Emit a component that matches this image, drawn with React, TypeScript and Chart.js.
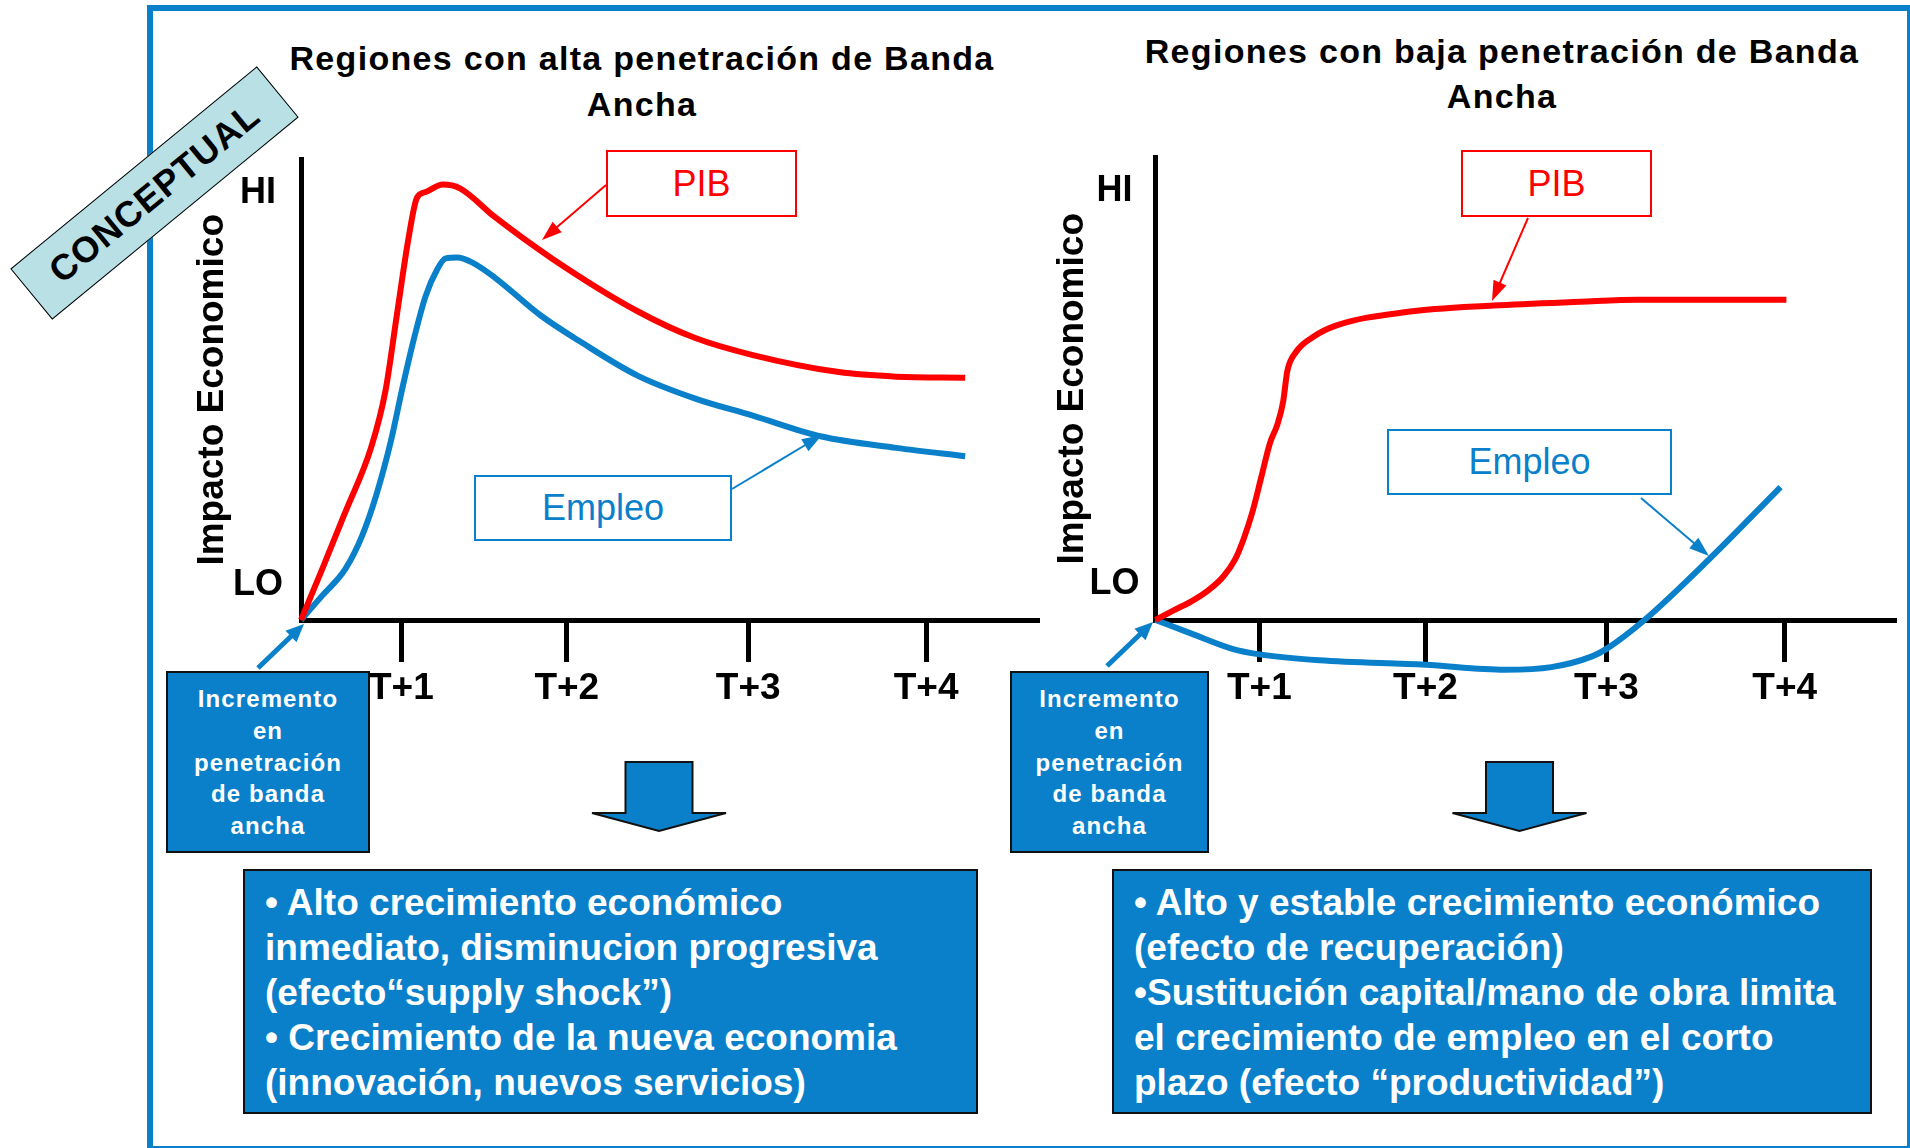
import React, { useEffect, useRef } from 'react';
import { Chart, registerables } from 'chart.js';

Chart.register(...registerables);

// ---------- data ----------
const tickLabels = ['T+1', 'T+2', 'T+3', 'T+4'];
const levelLabels = ['LO', 'HI'];

// Left panel: high broadband penetration (x, y in % of axis length)
const altaTickPos = [13.64, 36.11, 60.76, 84.93];
const altaLevelPos = [7.53, 92.69];
const altaPibX = [0, 2.88, 6.01, 9.51, 11.47, 13.02, 14.58, 15.75, 16.92, 19.27, 21.6, 26.28, 34.08, 45.79, 53.57, 61.39, 73.08, 80.88, 90.24];
const altaPibY = [0, 11.05, 23.4, 37.38, 49.72, 66.19, 82.65, 91.7, 92.95, 94.58, 93.76, 87.59, 78.54, 67.01, 61.25, 57.55, 53.85, 52.86, 52.6];
const altaEmpX = [0, 2.88, 6.01, 8.34, 10.3, 12.24, 13.8, 15.37, 16.92, 18.48, 19.65, 21.21, 23.17, 26.28, 32.53, 37.98, 45.79, 53.57, 61.39, 70.73, 80.88, 90.24];
const altaEmpY = [0, 5.29, 11.05, 18.45, 27.51, 39.03, 50.56, 61.25, 70.3, 76.06, 78.54, 78.71, 77.72, 74.43, 66.19, 60.43, 53.03, 48.09, 44.39, 39.85, 37.38, 35.57];

// Right panel: low broadband penetration
const bajaTickPos = [14.07, 36.55, 61.07, 85.2];
const bajaLevelPos = [7.74, 92.69];
const bajaPibX = [0, 2.52, 4.87, 7.23, 9.19, 10.78, 11.96, 13.13, 14.31, 15.49, 16.51, 17.29, 17.85, 19.03, 21.38, 24.52, 33.96, 45.74, 57.54, 65.39, 85.43];
const bajaPibY = [0, 2.15, 4.04, 6.52, 9.4, 13.1, 17.63, 23.4, 30.8, 38.22, 42.32, 47.27, 53.85, 57.96, 61.25, 63.72, 66.6, 68.0, 68.82, 69.25, 69.25];
const bajaEmpX = [0, 4.87, 10.39, 14.07, 22.17, 36.55, 47.31, 53.61, 59.11, 61.07, 66.17, 75.22, 84.64];
const bajaEmpY = [0, -2.95, -6.24, -7.44, -8.71, -9.68, -10.75, -10.19, -7.87, -6.24, -0.06, 13.53, 28.75];

// ---------- styles ----------
const RED = '#FF0000';
const BLUE = '#0A80CA';
const FONT = '"Liberation Sans", Arial, Helvetica, sans-serif';

type PanelProps = {
  left: number; top: number; width: number; height: number;
  yWidth: number; padRight: number; titlePad: number; levelPad: number;
  tickPos: number[]; levelPos: number[];
  pibX: number[]; pibY: number[]; empX: number[]; empY: number[];
};

function Panel(p: PanelProps) {
  const ref = useRef<HTMLCanvasElement>(null);
  useEffect(() => {
    const toPts = (xs: number[], ys: number[]) => xs.map((x, i) => ({ x, y: ys[i] }));
    const chart = new Chart(ref.current as HTMLCanvasElement, {
      type: 'line',
      data: {
        datasets: [
          {
            label: 'PIB', data: toPts(p.pibX, p.pibY), borderColor: RED, borderWidth: 6,
            pointRadius: 0, cubicInterpolationMode: 'monotone', clip: false as any, fill: false,
            borderJoinStyle: 'round',
          },
          {
            label: 'Empleo', data: toPts(p.empX, p.empY), borderColor: BLUE, borderWidth: 6,
            pointRadius: 0, cubicInterpolationMode: 'monotone', clip: false as any, fill: false,
            borderJoinStyle: 'round',
          },
        ],
      },
      options: {
        responsive: false,
        animation: false,
        devicePixelRatio: 1,
        events: [],
        layout: { padding: { top: 35, right: p.padRight, left: 0, bottom: 0 } },
        plugins: { legend: { display: false }, tooltip: { enabled: false } },
        scales: {
          x: {
            type: 'linear', min: 0, max: 100,
            afterBuildTicks: (s: any) => { s.ticks = p.tickPos.map((v) => ({ value: v })); },
            afterFit: (s: any) => { s.height = 120; },
            ticks: {
              autoSkip: false, maxRotation: 0, padding: 5, color: '#000',
              font: { family: FONT, size: 37, weight: 'bold' },
              callback: (_v: any, i: number) => tickLabels[i],
            },
            grid: { drawOnChartArea: false, drawTicks: true, tickLength: 42, tickWidth: 5, lineWidth: 5, color: '#000' },
            border: { display: true, color: '#000', width: 5 },
          },
          y: {
            type: 'linear', min: 0, max: 100,
            afterBuildTicks: (s: any) => { s.ticks = p.levelPos.map((v) => ({ value: v })); },
            afterFit: (s: any) => { s.width = p.yWidth; },
            ticks: {
              autoSkip: false, crossAlign: 'center', padding: p.levelPad, color: '#000',
              font: { family: FONT, size: 36, weight: 'bold' },
              callback: (_v: any, i: number) => levelLabels[i],
            },
            grid: { drawOnChartArea: false, drawTicks: false, color: '#000' },
            border: { display: true, color: '#000', width: 5 },
            title: {
              display: true, text: 'Impacto Economico', color: '#000',
              font: { family: FONT, size: 37, weight: 'bold' },
              padding: { top: p.titlePad, bottom: 0 },
            },
          },
        },
      } as any,
    });
    return () => chart.destroy();
  }, []);
  return (
    <canvas
      ref={ref}
      width={p.width}
      height={p.height}
      style={{ position: 'absolute', left: p.left, top: p.top, width: p.width, height: p.height }}
    />
  );
}

function Arrow({ x1, y1, x2, y2, color, w, head, hw }: any) {
  const dx = x2 - x1, dy = y2 - y1;
  const L = Math.hypot(dx, dy);
  const ux = dx / L, uy = dy / L;
  const bx = x2 - ux * head, by = y2 - uy * head;
  const px = -uy, py = ux;
  return (
    <g>
      <line x1={x1} y1={y1} x2={bx + ux * 2} y2={by + uy * 2} stroke={color} strokeWidth={w} />
      <polygon points={`${x2},${y2} ${bx + px * hw},${by + py * hw} ${bx - px * hw},${by - py * hw}`} fill={color} />
    </g>
  );
}

function BlockArrow({ cx }: { cx: number }) {
  const pts = [
    [cx - 33.5, 762], [cx + 33.5, 762], [cx + 33.5, 813], [cx + 67, 813],
    [cx, 831], [cx - 67, 813], [cx - 33.5, 813],
  ].map((q) => q.join(',')).join(' ');
  return <polygon points={pts} fill={BLUE} stroke="#111" strokeWidth={2} strokeLinejoin="miter" />;
}

const abs = (s: React.CSSProperties): React.CSSProperties => ({ position: 'absolute', boxSizing: 'border-box', ...s });

function LabelBox({ left, top, width, height, color, text }: any) {
  return (
    <div style={abs({
      left, top, width, height, border: `2px solid ${color}`, background: '#fff', color,
      font: `36px ${FONT}`, display: 'flex', alignItems: 'center', justifyContent: 'center',
    })}>{text}</div>
  );
}

function IncBox({ left, width }: any) {
  return (
    <div style={abs({
      left, top: 671, width, height: 182, background: BLUE, border: '2px solid #111', color: '#fff',
      font: `bold 24px ${FONT}`, letterSpacing: '1.1px', lineHeight: '31.75px', textAlign: 'center', paddingTop: 10,
    })}>
      <div>Incremento</div>
      <div>en</div>
      <div>penetración</div>
      <div>de banda</div>
      <div>ancha</div>
    </div>
  );
}

function TextBox({ left, width, padLeft, lines }: any) {
  return (
    <div style={abs({
      left, top: 869, width, height: 245, background: BLUE, border: '2px solid #111', color: '#fff',
      font: `bold 37px ${FONT}`, lineHeight: '45px', paddingTop: 9, paddingLeft: padLeft, whiteSpace: 'nowrap',
    })}>
      {lines.map((l: string, i: number) => <div key={i}>{l}</div>)}
    </div>
  );
}

export default function App() {
  useEffect(() => {
    document.body.style.margin = '0';
    document.body.style.background = '#fff';
  }, []);
  return (
    <div style={{ position: 'absolute', left: 0, top: 0, width: 1910, height: 1148, overflow: 'hidden', background: '#fff', fontFamily: FONT }}>
      <div style={abs({ left: 147, top: 5, width: 1766, height: 1147, border: `6px solid ${BLUE}` })} />

      <div style={abs({ left: 242, top: 35, width: 800, textAlign: 'center', font: `bold 34px ${FONT}`, letterSpacing: '1.3px', lineHeight: '46px', color: '#000' })}>
        Regiones con alta penetración de Banda<br />Ancha
      </div>
      <div style={abs({ left: 1102, top: 29, width: 800, textAlign: 'center', font: `bold 34px ${FONT}`, letterSpacing: '1.3px', lineHeight: '45px', color: '#000' })}>
        Regiones con baja penetración de Banda<br />Ancha
      </div>

      <Panel left={150} top={120} width={910} height={620} yWidth={151} padRight={23} titlePad={40.8} levelPad={18}
        tickPos={altaTickPos} levelPos={altaLevelPos} pibX={altaPibX} pibY={altaPibY} empX={altaEmpX} empY={altaEmpY} />
      <Panel left={1005} top={120} width={899} height={620} yWidth={150.5} padRight={10} titlePad={45.3} levelPad={16}
        tickPos={bajaTickPos} levelPos={bajaLevelPos} pibX={bajaPibX} pibY={bajaPibY} empX={bajaEmpX} empY={bajaEmpY} />

      <LabelBox left={606} top={150} width={191} height={67} color={RED} text="PIB" />
      <LabelBox left={474} top={475} width={258} height={66} color={BLUE} text="Empleo" />
      <LabelBox left={1461} top={150} width={191} height={67} color={RED} text="PIB" />
      <LabelBox left={1387} top={429} width={285} height={66} color={BLUE} text="Empleo" />

      <svg width={1910} height={1148} style={{ position: 'absolute', left: 0, top: 0, pointerEvents: 'none' }}>
        <Arrow x1={606} y1={185} x2={542} y2={240} color={RED} w={2} head={20} hw={7} />
        <Arrow x1={732} y1={489} x2={822} y2={435} color={BLUE} w={2} head={20} hw={7} />
        <Arrow x1={1528} y1={218} x2={1492} y2={301} color={RED} w={2} head={20} hw={7} />
        <Arrow x1={1641} y1={498} x2={1709} y2={556} color={BLUE} w={2} head={20} hw={7} />
        <Arrow x1={258} y1={668} x2={304} y2={624} color={BLUE} w={5} head={18} hw={8} />
        <Arrow x1={1107} y1={666} x2={1153} y2={622} color={BLUE} w={5} head={18} hw={8} />
        <BlockArrow cx={659} />
        <BlockArrow cx={1519.5} />
      </svg>

      <IncBox left={166} width={204} />
      <IncBox left={1010} width={199} />

      <TextBox left={243} width={735} padLeft={20} lines={[
        '• Alto crecimiento económico',
        'inmediato, disminucion progresiva',
        '(efecto“supply shock”)',
        '• Crecimiento de la nueva economia',
        '(innovación, nuevos servicios)',
      ]} />
      <TextBox left={1112} width={760} padLeft={20} lines={[
        '• Alto y estable crecimiento económico',
        '(efecto de recuperación)',
        '•Sustitución capital/mano de obra limita',
        'el crecimiento de empleo en el corto',
        'plazo (efecto “productividad”)',
      ]} />

      <div style={abs({
        left: -5, top: 159.5, width: 319, height: 66, background: '#B9E0E4', border: '1.5px solid #000',
        transform: 'rotate(-39.4deg)', transformOrigin: 'center center', display: 'flex', alignItems: 'center',
        justifyContent: 'center', font: `bold 36px ${FONT}`, letterSpacing: '1px', color: '#000',
      })}>CONCEPTUAL</div>
    </div>
  );
}
